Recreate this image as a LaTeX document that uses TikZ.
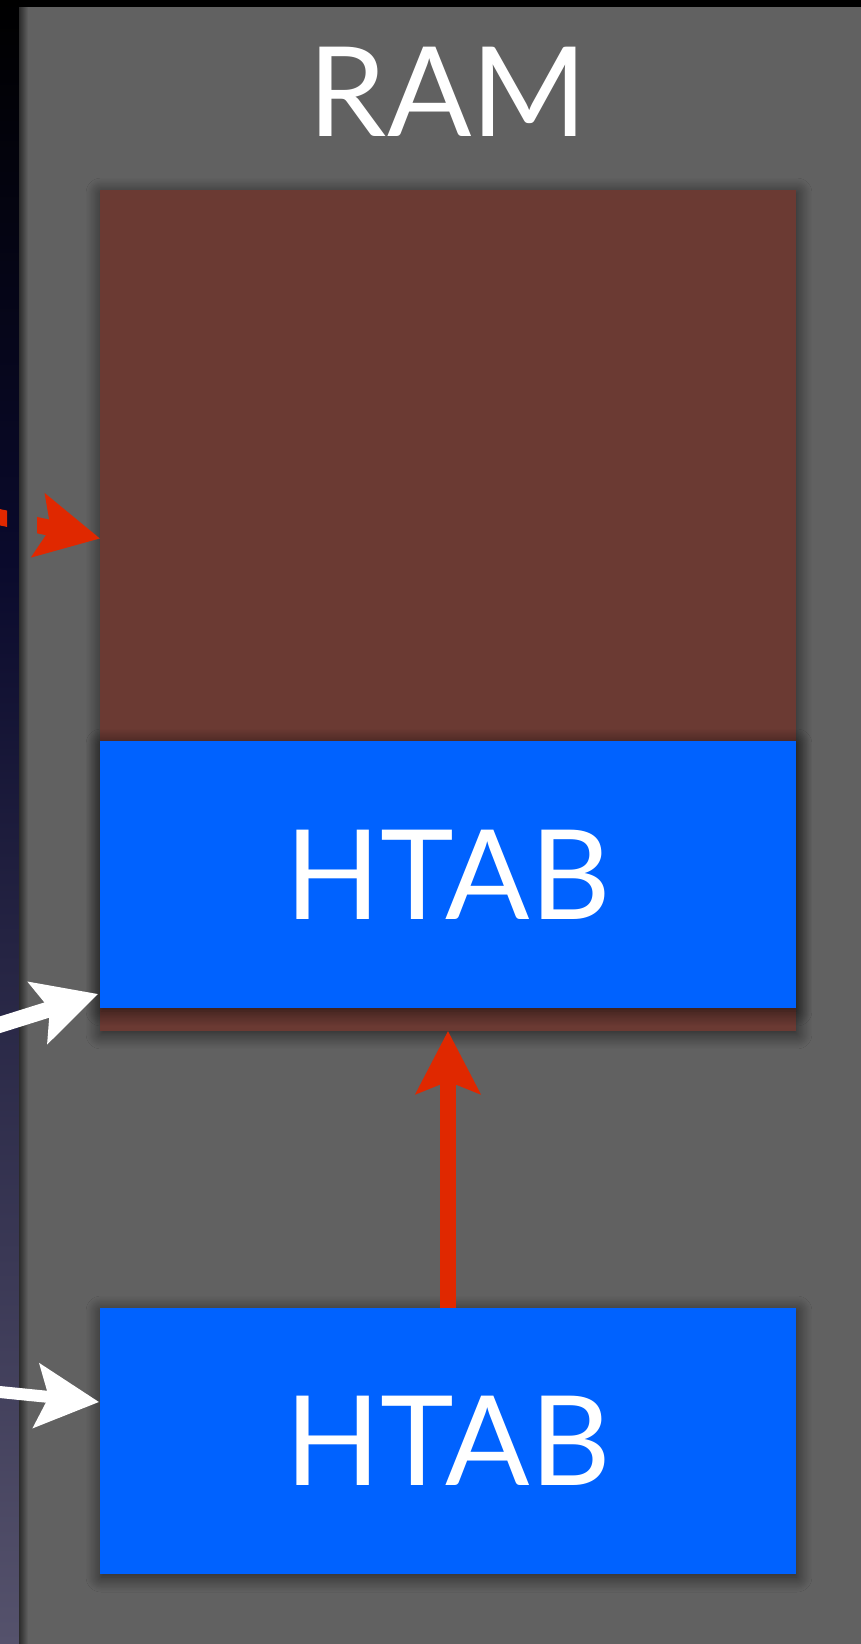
\documentclass[tikz,border=0pt]{standalone}
\usepackage{fontspec}
\setmainfont{Lato}
\usepackage{tikz}
\usetikzlibrary{
arrows.meta,
positioning,
calc,
shadows.blur
}
\definecolor{PanelGray}{HTML}{616161}
\definecolor{RamBrown}{HTML}{6B3A33}
\definecolor{HtabBlue}{HTML}{0062FF}
\definecolor{LinkRed}{HTML}{E02800}
\definecolor{SkyNavy}{HTML}{0A0A2C}
\definecolor{SkyDusk}{HTML}{55526C}

\begin{document}
\begin{tikzpicture}[
    x=0.02cm,
    y=-0.02cm,
    >=Stealth,
    bigarrow/.style={
        -{Stealth[length=1.25cm,width=1.27cm,inset=0.24cm]},
        line width=0.33cm
    },
    softshadow/.style={
        blur shadow={shadow xshift=0.02cm,shadow yshift=-0.06cm,shadow blur radius=0.3cm,shadow blur steps=14,shadow opacity=65}
    }
]

\useasboundingbox (0,0) rectangle (861,1644);
\clip (0,0) rectangle (861,1644);

% =====================================================
% BACKGROUND
% =====================================================
\shade[
    top color=black,
    bottom color=SkyNavy
]
(0,0) rectangle (19,560);

\shade[
    top color=SkyNavy,
    bottom color=SkyDusk
]
(0,560) rectangle (19,1644);

\fill[black] (0,0) rectangle (861,7);

% =====================================================
% RED LINK FROM THE LEFT (shaft runs behind the panel)
% =====================================================
\coordinate (redtail) at (-20,513);

% =====================================================
% RAM PANEL
% =====================================================
\fill[PanelGray] (19,7) rectangle (861,1644);

% panel edge shading
\shade[
    left color=black!55!PanelGray,
    right color=PanelGray
]
(19,7) rectangle (28,1644);

\node[
    font=\fontsize{71}{71}\selectfont,
    text=white,
    inner sep=0pt
]
(title)
at (448,92)
{RAM};

% =====================================================
% MEMORY BLOCKS
% =====================================================
\node[
    fill=RamBrown,
    softshadow,
    minimum width=13.92cm,
    minimum height=16.82cm,
    inner sep=0pt,
    outer sep=0pt
]
(ram)
at (448,610.5)
{};

\node[
    fill=HtabBlue,
    softshadow,
    text=white,
    font=\fontsize{71}{71}\selectfont,
    minimum width=13.92cm,
    minimum height=5.34cm,
    inner sep=0pt,
    outer sep=0pt
]
(htabA)
at (448,874.5)
{HTAB};

\node[
    fill=HtabBlue,
    softshadow,
    text=white,
    font=\fontsize{71}{71}\selectfont,
    minimum width=13.92cm,
    minimum height=5.32cm,
    inner sep=0pt,
    outer sep=0pt
]
(htabB)
at (448,1441)
{HTAB};

% =====================================================
% ARROWS
% =====================================================
% copy link between the two tables
\draw[
    bigarrow,
    LinkRed
]
(htabB.north) -- (ram.south);

% red link, hidden where it crosses the panel edge
\begin{scope}
    \clip (0,0) rectangle (7,1644)
          (37,0) rectangle (861,1644)
          (7,548) rectangle (37,1644);
    \draw[
        bigarrow,
        LinkRed,
        line width=0.32cm
    ]
    (redtail) -- ($(ram.west)+(0,-72)$);
\end{scope}

% incoming references
\coordinate (whitetailA) at (-20,1031);
\coordinate (whitetailB) at (-20,1390);

\draw[
    bigarrow,
    white,
    line width=0.32cm
]
(whitetailA) -- ($(htabA.south west)+(-2,-14)$);

\draw[
    bigarrow,
    white,
    line width=0.24cm
]
(whitetailB) -- ($(htabB.west)+(-1,-39)$);

\end{tikzpicture}
\end{document}
